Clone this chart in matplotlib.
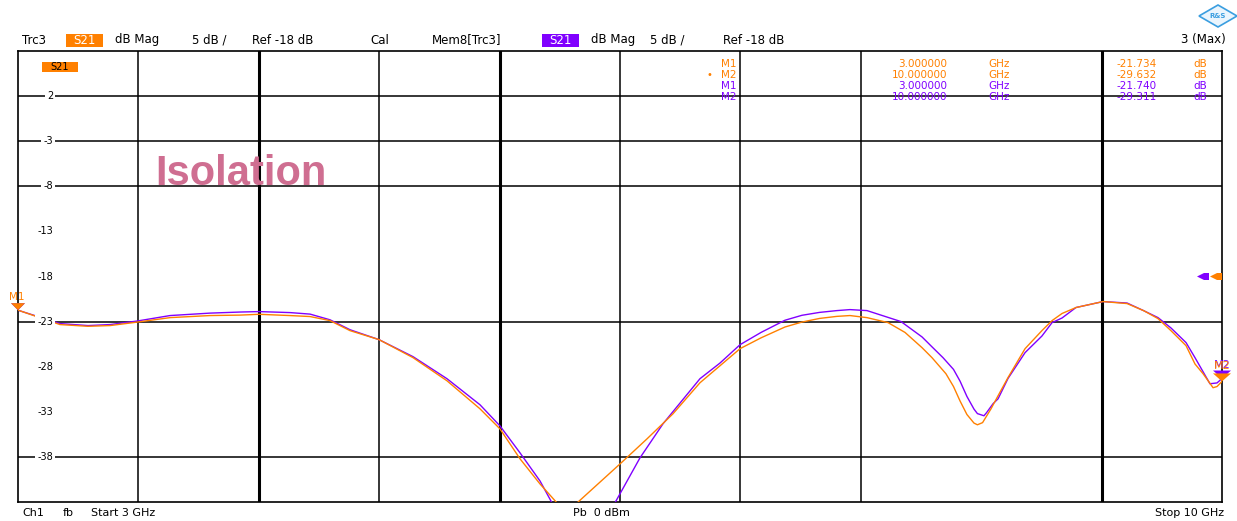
import matplotlib
matplotlib.use("Agg")
import matplotlib.pyplot as plt
from matplotlib.patches import Polygon, Rectangle

# ---------------- data ----------------
f_start, f_stop = 3.0, 10.0          # GHz
ref_level, per_div = -18, 5          # dB
y_top, y_bot = 7, -43                # dB

freq_trc = [3.000, 3.244, 3.407, 3.535, 3.692, 3.884, 4.116, 4.291, 4.401, 4.581,
            4.698, 4.814, 4.930, 5.099, 5.297, 5.494, 5.686, 5.802, 5.919, 6.035,
            6.134, 6.186, 6.250, 6.500, 6.657, 6.808, 6.965, 7.081, 7.198, 7.320,
            7.459, 7.558, 7.660, 7.761, 7.837, 7.936, 8.058, 8.157, 8.256, 8.314,
            8.395, 8.439, 8.477, 8.517, 8.558, 8.578, 8.608, 8.657, 8.698, 8.756,
            8.855, 8.953, 9.012, 9.070, 9.151, 9.308, 9.448, 9.546, 9.628, 9.703,
            9.791, 9.843, 9.890, 9.948, 9.971, 10.000]
s21_trc = [-21.73, -23.33, -23.52, -23.44, -23.06, -22.56, -22.33, -22.28, -22.19, -22.33,
           -22.44, -22.89, -24.00, -25.00, -27.00, -29.56, -32.67, -34.89, -38.22, -41.00,
           -43.11, -44.20, -43.11, -38.78, -36.00, -33.22, -29.78, -27.90, -26.00, -24.80,
           -23.60, -23.05, -22.65, -22.42, -22.33, -22.56, -23.11, -24.20, -25.89, -27.00,
           -28.78, -30.20, -31.80, -33.30, -34.25, -34.44, -34.20, -32.67, -31.22, -29.20,
           -26.00, -24.00, -22.89, -22.10, -21.44, -20.78, -21.00, -21.80, -22.67, -24.00,
           -25.67, -27.70, -28.78, -30.33, -30.20, -29.63]

freq_mem = [3.000, 3.244, 3.407, 3.535, 3.692, 3.884, 4.116, 4.291, 4.401, 4.581,
            4.698, 4.814, 4.930, 5.099, 5.297, 5.494, 5.686, 5.802, 5.919, 6.035,
            6.105, 6.285, 6.483, 6.616, 6.750, 6.965, 7.081, 7.198, 7.320, 7.459,
            7.558, 7.660, 7.761, 7.837, 7.936, 8.134, 8.256, 8.314, 8.378, 8.439,
            8.477, 8.517, 8.558, 8.578, 8.616, 8.631, 8.669, 8.698, 8.756, 8.855,
            8.953, 9.012, 9.070, 9.151, 9.308, 9.448, 9.546, 9.628, 9.703, 9.791,
            9.843, 9.930, 9.971, 10.000]
s21_mem = [-21.74, -23.22, -23.44, -23.33, -22.94, -22.33, -22.06, -21.94, -21.89, -22.00,
           -22.17, -22.80, -23.90, -25.00, -26.89, -29.33, -32.22, -34.56, -37.56, -40.67,
           -43.11, -49.30, -42.67, -38.11, -34.33, -29.33, -27.60, -25.56, -24.20, -22.85,
           -22.30, -21.98, -21.78, -21.67, -21.78, -23.00, -24.70, -25.80, -27.00, -28.30,
           -29.60, -31.30, -32.70, -33.20, -33.44, -33.10, -32.10, -31.56, -29.30, -26.44,
           -24.60, -23.11, -22.60, -21.44, -20.78, -20.94, -21.80, -22.56, -23.70, -25.33,
           -27.00, -29.89, -29.80, -29.31]

marker_names = ["M1", "M2"]
marker_freq = [3.0, 10.0]
marker_trc = [-21.734, -29.632]
marker_mem = [-21.740, -29.311]

ytick_values = [2, -3, -8, -13, -18, -23, -28, -33, -38]
hgrid_values = [2, -3, -8, -23, -38]
vgrid_freqs = [3.7, 4.4, 5.1, 5.8, 6.5, 7.2, 7.9, 9.3]
vgrid_thick = [4.4, 5.8, 9.3]

ORANGE = "#FF8000"
PURPLE = "#8000FF"
PINK = "#CF6E91"
LOGO = "#3A9EE0"

# ---------------- figure ----------------
W, H = 1237, 521
L, R, T, B = 18, 1222, 51, 502
fig = plt.figure(figsize=(W / 100, H / 100), dpi=100)
fig.patch.set_facecolor("white")
ax = fig.add_axes([L / W, 1 - B / H, (R - L) / W, (B - T) / H])
ax.set_xlim(f_start, f_stop)
ax.set_ylim(y_bot, y_top)
ax.set_xticks([])
ax.set_yticks([])
for s in ax.spines.values():
    s.set_linewidth(1.2)
    s.set_color("black")


def fx(x):
    return x / W


def fy(y):
    return 1 - y / H


def ypx(db):
    return T + (y_top - db) / (y_top - y_bot) * (B - T)


def xpx(f):
    return L + (f - f_start) / (f_stop - f_start) * (R - L)


for f in vgrid_freqs:
    ax.axvline(f, color="black", lw=2.2 if f in vgrid_thick else 1.1, zorder=1)
for v in hgrid_values:
    ax.axhline(v, color="black", lw=1.1, zorder=1)

ax.plot(freq_mem, s21_mem, color=PURPLE, lw=1.0, zorder=3)
ax.plot(freq_trc, s21_trc, color=ORANGE, lw=1.0, zorder=4)

FONT = "DejaVu Sans"

# y labels
for v in ytick_values:
    fig.text(fx(53), fy(ypx(v)), f"{v}", ha="right", va="center", fontsize=7,
             family=FONT, color="black", zorder=5,
             bbox=dict(facecolor="white", edgecolor="none", pad=1.5))

# header
hy = 40
fig.text(fx(22), fy(hy), "Trc3", ha="left", va="center", fontsize=8.5, family=FONT)
fig.patches.append(Rectangle((fx(66), fy(47)), (103 - 66) / W, 13 / H,
                             transform=fig.transFigure, facecolor=ORANGE, edgecolor="none"))
fig.text(fx(84.5), fy(hy), "S21", ha="center", va="center", fontsize=8.5, family=FONT, color="white")
fig.text(fx(115), fy(hy), "dB Mag", ha="left", va="center", fontsize=8.5, family=FONT)
fig.text(fx(192), fy(hy), f"{per_div} dB /", ha="left", va="center", fontsize=8.5, family=FONT)
fig.text(fx(252), fy(hy), f"Ref {ref_level} dB", ha="left", va="center", fontsize=8.5, family=FONT)
fig.text(fx(370), fy(hy), "Cal", ha="left", va="center", fontsize=8.5, family=FONT)
fig.text(fx(432), fy(hy), "Mem8[Trc3]", ha="left", va="center", fontsize=8.5, family=FONT)
fig.patches.append(Rectangle((fx(542), fy(47)), (579 - 542) / W, 13 / H,
                             transform=fig.transFigure, facecolor=PURPLE, edgecolor="none"))
fig.text(fx(560.5), fy(hy), "S21", ha="center", va="center", fontsize=8.5, family=FONT, color="white")
fig.text(fx(591), fy(hy), "dB Mag", ha="left", va="center", fontsize=8.5, family=FONT)
fig.text(fx(650), fy(hy), f"{per_div} dB /", ha="left", va="center", fontsize=8.5, family=FONT)
fig.text(fx(723), fy(hy), f"Ref {ref_level} dB", ha="left", va="center", fontsize=8.5, family=FONT)
fig.text(fx(1226), fy(hy), "3 (Max)", ha="right", va="center", fontsize=8.5, family=FONT)

# bottom line
by = 513
fig.text(fx(22), fy(by), "Ch1", ha="left", va="center", fontsize=8, family=FONT)
fig.text(fx(63), fy(by), "fb", ha="left", va="center", fontsize=8, family=FONT)
fig.text(fx(91), fy(by), f"Start {f_start:g} GHz", ha="left", va="center", fontsize=8, family=FONT)
fig.text(fx(573), fy(by), "Pb  0 dBm", ha="left", va="center", fontsize=8, family=FONT)
fig.text(fx(1224), fy(by), f"Stop {f_stop:g} GHz", ha="right", va="center", fontsize=8, family=FONT)

# S21 tag inside plot
fig.patches.append(Rectangle((fx(42), fy(72)), 36 / W, 10 / H,
                             transform=fig.transFigure, facecolor=ORANGE, edgecolor="none", zorder=5))
fig.text(fx(60), fy(67), "S21", ha="center", va="center", fontsize=7, family=FONT, color="black", zorder=6)

# Isolation label
fig.text(fx(155), fy(174), "Isolation", ha="left", va="center", fontsize=30,
         family="Liberation Sans", weight="bold", color=PINK, zorder=6)

# marker table
rows = []
for n, f, v in zip(marker_names, marker_freq, marker_trc):
    rows.append((n, f, v, ORANGE))
for n, f, v in zip(marker_names, marker_freq, marker_mem):
    rows.append((n, f, v, PURPLE))
row_y = [64, 75, 86, 97]
for i, (n, f, v, c) in enumerate(rows):
    y = row_y[i]
    if i == 1:
        fig.text(fx(709), fy(y), "\u2022", ha="center", va="center", fontsize=7, family=FONT, color=c, zorder=6)
    fig.text(fx(721), fy(y), n, ha="left", va="center", fontsize=7.5, family=FONT, color=c, zorder=6)
    fig.text(fx(947), fy(y), f"{f:.6f}", ha="right", va="center", fontsize=7.5, family=FONT, color=c, zorder=6)
    fig.text(fx(988), fy(y), "GHz", ha="left", va="center", fontsize=7.5, family=FONT, color=c, zorder=6)
    fig.text(fx(1157), fy(y), f"{v:.3f}", ha="right", va="center", fontsize=7.5, family=FONT, color=c, zorder=6)
    fig.text(fx(1193), fy(y), "dB", ha="left", va="center", fontsize=7.5, family=FONT, color=c, zorder=6)


def tri_down(xc, ytip, w, h, color):
    pts = [(fx(xc - w / 2), fy(ytip - h)), (fx(xc + w / 2), fy(ytip - h)), (fx(xc), fy(ytip))]
    fig.patches.append(Polygon(pts, closed=True, transform=fig.transFigure,
                               facecolor=color, edgecolor="none", zorder=7))


# M1 marker (left)
x1 = xpx(marker_freq[0])
tri_down(x1, ypx(marker_mem[0]), 14, 7, PURPLE)
tri_down(x1, ypx(marker_trc[0]), 14, 7, ORANGE)
fig.text(fx(x1 - 1), fy(ypx(marker_trc[0]) - 13), "M1", ha="center", va="center", fontsize=7.5,
         family=FONT, color=ORANGE, zorder=8)

# M2 marker (right)
x2 = xpx(marker_freq[1])
tri_down(x2, ypx(marker_mem[1]), 18, 8, PURPLE)
tri_down(x2, ypx(marker_trc[1]), 18, 8, ORANGE)
fig.text(fx(x2), fy(ypx(marker_mem[1]) - 14), "M2", ha="center", va="center", fontsize=8,
         family=FONT, color=PURPLE, zorder=8)
fig.text(fx(x2), fy(ypx(marker_trc[1]) - 15), "M2", ha="center", va="center", fontsize=8,
         family=FONT, color=ORANGE, zorder=8)


# reference-level arrows
def ref_arrow(xl, xr, yc, color):
    h = 3.5
    pts = [(fx(xl), fy(yc)), (fx(xl + 7), fy(yc - h)), (fx(xr), fy(yc - h)),
           (fx(xr), fy(yc + h)), (fx(xl + 7), fy(yc + h))]
    fig.patches.append(Polygon(pts, closed=True, transform=fig.transFigure,
                               facecolor=color, edgecolor="none", zorder=7))


yr = ypx(ref_level)
ref_arrow(1197, 1209, yr, PURPLE)
ref_arrow(1210, 1222, yr, ORANGE)

# logo
lx, ly = 1218, 16
fig.patches.append(Polygon([(fx(lx - 19), fy(ly)), (fx(lx), fy(ly - 11)), (fx(lx + 19), fy(ly)),
                            (fx(lx), fy(ly + 11))], closed=True, transform=fig.transFigure,
                           facecolor="#EAF5FD", edgecolor=LOGO, lw=1.2))
fig.text(fx(lx), fy(ly), "R&S", ha="center", va="center", fontsize=5, family=FONT,
         color=LOGO, weight="bold")

fig.savefig("out.png", dpi=100, facecolor="white")
